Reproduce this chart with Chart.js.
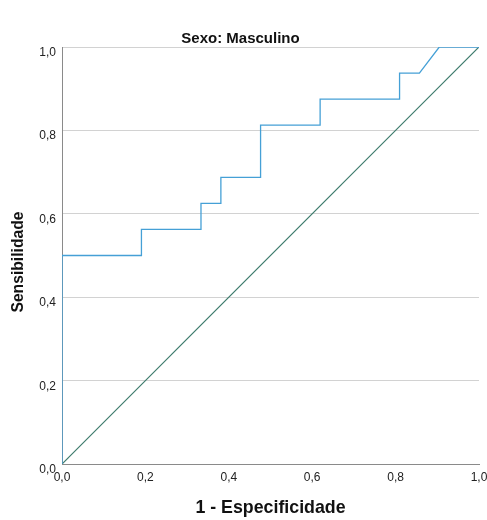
<!DOCTYPE html>
<html>
<head>
<meta charset="utf-8">
<script src="https://cdn.jsdelivr.net/npm/chart.js@4.4.1/dist/chart.umd.min.js"></script>
<style>
html,body{margin:0;padding:0;background:#fff;}
#wrap{width:487px;height:520px;}
</style>
</head>
<body>
<div id="wrap"><canvas id="c" width="487" height="520"></canvas></div>
<script>
const chartTitle = "Sexo: Masculino";
const xAxisTitle = "1 - Especificidade";
const yAxisTitle = "Sensibilidade";
const tickValues = [0, 0.2, 0.4, 0.6, 0.8, 1.0];
// ROC curve points (1 - specificity, sensitivity)
const rocFpr = [0, 0, 0.1905, 0.1905, 0.3333, 0.3333, 0.3810, 0.3810, 0.4762, 0.4762, 0.6190, 0.6190, 0.8095, 0.8095, 0.8571, 0.9048, 1.0];
const rocTpr = [0, 0.5, 0.5, 0.5625, 0.5625, 0.625, 0.625, 0.6875, 0.6875, 0.8125, 0.8125, 0.875, 0.875, 0.9375, 0.9375, 1.0, 1.0];
// Reference diagonal
const refX = [0, 1];
const refY = [0, 1];

const FONT = "'Liberation Sans', Arial, sans-serif";
const fmt = v => Number(v).toFixed(1).replace('.', ',');

const titlePlugin = {
  id: 'textTitles',
  afterDraw(chart) {
    const ctx = chart.ctx;
    ctx.save();
    ctx.fillStyle = '#111';
    ctx.textAlign = 'center';
    ctx.textBaseline = 'middle';
    ctx.font = "bold 15px " + FONT;
    ctx.fillText(chartTitle, 240.5, 39);
    ctx.translate(19, 262);
    ctx.rotate(-Math.PI / 2);
    ctx.font = "bold 15.7px " + FONT;
    ctx.fillText(yAxisTitle, 0, 0);
    ctx.restore();
  }
};

new Chart(document.getElementById('c'), {
  type: 'scatter',
  data: {
    datasets: [
      {
        data: rocFpr.map((x, i) => ({x: x, y: rocTpr[i]})),
        showLine: true,
        borderColor: '#45a0d6',
        borderWidth: 1.3,
        pointRadius: 0,
        tension: 0,
        fill: false
      },
      {
        data: refX.map((x, i) => ({x: x, y: refY[i]})),
        showLine: true,
        borderColor: '#3c7a6c',
        borderWidth: 1.2,
        pointRadius: 0,
        fill: false
      }
    ]
  },
  options: {
    responsive: false,
    animation: false,
    layout: {padding: {top: 47, right: 0, left: 0, bottom: 0}},
    plugins: {legend: {display: false}, tooltip: {enabled: false}, title: {display: false}},
    scales: {
      x: {
        type: 'linear', min: 0, max: 1,
        afterBuildTicks: s => { s.ticks = tickValues.map(v => ({value: v})); },
        afterFit: s => { s.height = 56; s.paddingRight = 8; },
        ticks: {callback: fmt, font: {family: FONT, size: 12}, color: '#222', padding: 6, maxRotation: 0},
        grid: {display: false, drawTicks: false},
        border: {display: true, color: '#8a8a8a', width: 1},
        title: {display: true, text: xAxisTitle, font: {family: FONT, size: 17.8, weight: 'bold'}, color: '#111', padding: {top: 0, bottom: 1}}
      },
      y: {
        type: 'linear', min: 0, max: 1,
        afterBuildTicks: s => { s.ticks = tickValues.map(v => ({value: v})); },
        afterFit: s => { s.width = 62; },
        ticks: {callback: v => ['', fmt(v)], font: {family: FONT, size: 12, lineHeight: 0.95}, color: '#222', padding: 6},
        grid: {drawTicks: false, color: ctx => (ctx.tick && ctx.tick.value === 0) ? 'rgba(0,0,0,0)' : '#d2d2d2', lineWidth: 1},
        border: {display: true, color: '#8a8a8a', width: 1},
        title: {display: false}
      }
    }
  },
  plugins: [titlePlugin]
});
</script>
</body>
</html>
